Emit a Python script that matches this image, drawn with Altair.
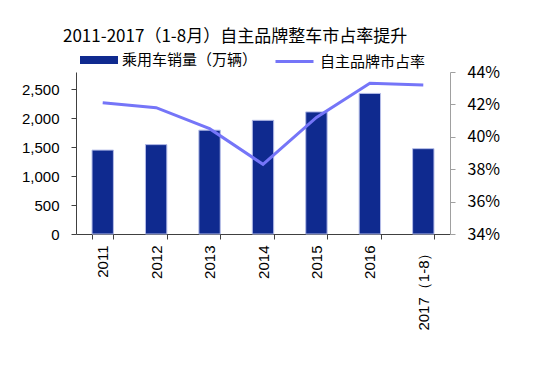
import altair as alt
import pandas as pd

years = ["2011", "2012", "2013", "2014", "2015", "2016", "2017（1-8）"]
sales = [1450, 1545, 1795, 1965, 2110, 2430, 1475]
share = [0.421, 0.418, 0.405, 0.383, 0.412, 0.433, 0.432]
bar_name = "乘用车销量（万辆）"
line_name = "自主品牌市占率"
left_ticks = [0, 500, 1000, 1500, 2000, 2500]
right_ticks = [0.34, 0.36, 0.38, 0.40, 0.42, 0.44]

df = pd.DataFrame({
    "year": years,
    "sales": sales,
    "share": share,
    "s1": [bar_name] * len(years),
    "s2": [line_name] * len(years),
})

CJK = "'Noto Sans CJK SC', 'Noto Sans', sans-serif"
LAT = "'Liberation Sans', Arial, sans-serif"

x = alt.X(
    "year:N", sort=years, title=None,
    scale=alt.Scale(paddingInner=0.6, paddingOuter=0.3),
    axis=alt.Axis(labelAngle=-90, tickBand="extent", labelFont=LAT, labelFontSize=15,
                  labelColor="#000000", domainColor="#404040", tickColor="#404040",
                  tickSize=5, labelPadding=6),
)

bars = alt.Chart(df).mark_bar(stroke="#B4BCE8", strokeWidth=1).encode(
    x=x,
    y=alt.Y("sales:Q", title=None,
            scale=alt.Scale(domain=[0, 2800], nice=False),
            axis=alt.Axis(values=left_ticks, format=",.0f", labelFont=LAT, labelFontSize=15,
                          labelColor="#000000", domainColor="#404040", tickColor="#404040",
                          tickSize=5, labelPadding=12, grid=False)),
    color=alt.Color("s1:N", scale=alt.Scale(range=["#0F2A8F"]),
                    legend=alt.Legend(orient="none", legendX=4, legendY=-31, title=None,
                                      symbolType="M-1,-0.21H1V0.21H-1Z", symbolSize=1444,
                                      symbolStrokeWidth=0, labelFont=CJK, labelFontSize=15,
                                      labelColor="#000000", labelOffset=4, padding=0)),
)

line = alt.Chart(df).mark_line(strokeWidth=3).encode(
    x=x,
    y=alt.Y("share:Q", title=None,
            scale=alt.Scale(domain=[0.34, 0.44], nice=False, zero=False),
            axis=alt.Axis(orient="right", values=right_ticks, format=".0%", labelFont=CJK,
                          labelFontSize=16, labelColor="#000000", domainColor="#A0A0A0",
                          tickColor="#A0A0A0", tickSize=5, labelPadding=12, grid=False)),
    stroke=alt.Stroke("s2:N", scale=alt.Scale(range=["#7575F8"]),
                      legend=alt.Legend(orient="none", legendX=198, legendY=-31, title=None,
                                        symbolType="stroke", symbolSize=1444,
                                        symbolStrokeWidth=3, labelFont=CJK, labelFontSize=15,
                                        labelColor="#000000", labelOffset=5, padding=0)),
)

chart = alt.layer(bars, line).resolve_scale(y="independent").properties(
    width=374,
    height=162,
    autosize=alt.AutoSizeParams(type="none"),
    padding={"left": 68, "top": 64, "right": 92, "bottom": 125},
    title=alt.TitleParams(
        "2011-2017（1-8月）自主品牌整车市占率提升",
        anchor="start", frame="group", dx=-13, offset=-5, font=CJK, fontSize=17,
        fontWeight="normal", color="#000000",
    ),
).configure_view(stroke=None)

chart.save("out.html", embed_options={"renderer": "svg", "actions": False})
